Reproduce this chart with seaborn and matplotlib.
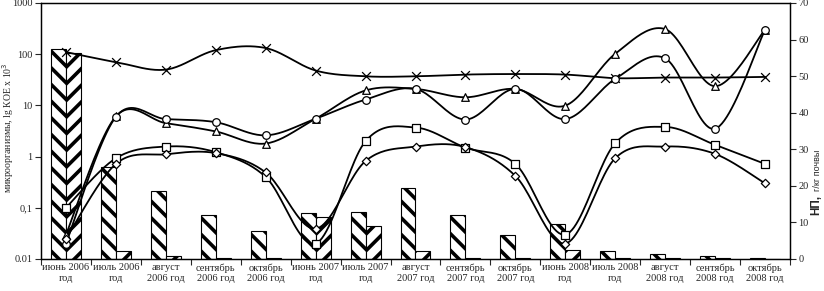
import numpy as np
import pandas as pd
import matplotlib
matplotlib.use("Agg")
import matplotlib.pyplot as plt
import seaborn as sns

# данные
months = ["июнь 2006\nгод", "июль 2006\nгод", "август\n2006 год", "сентябрь\n2006 год",
          "октябрь\n2006 год", "июнь 2007\nгод", "июль 2007\nгод", "август\n2007 год",
          "сентябрь\n2007 год", "октябрь\n2007 год", "июнь 2008\nгод", "июль 2008\nгод",
          "август\n2008 год", "сентябрь\n2008 год", "октябрь\n2008 год"]

# НП, г/кг почвы (правая ось)
np_bar1 = [57.4, 25.2, 18.5, 12.0, 7.6, 12.5, 12.8, 19.3, 12.0, 6.6, 9.5, 2.1, 1.3, 0.7, 0.2]
np_bar2 = [56.4, 2.1, 0.7, 0.4, 0.2, 11.4, 9.0, 2.1, 0.4, 0.2, 2.4, 0.4, 0.2, 0.2, 0.1]

# микроорганизмы (левая ось, лог)
s_cross = [110, 70, 50, 120, 132, 48, 37, 37, 40, 41, 40, 34, 35, 35, 36]
s_tri = [0.03, 6.1, 4.5, 3.1, 1.8, 5.5, 19.6, 21, 14.4, 21, 9.9, 102, 309, 23.7, 300]
s_circ = [0.02, 6.0, 5.4, 4.7, 2.6, 5.5, 13, 21, 5.3, 21, 5.4, 33, 83, 3.5, 300]
s_sq = [0.1, 0.93, 1.57, 1.22, 0.40, 0.02, 2.0, 3.7, 1.5, 0.72, 0.03, 1.83, 3.8, 1.7, 0.72]
s_dia = [0.025, 0.72, 1.11, 1.17, 0.49, 0.039, 0.82, 1.57, 1.53, 0.42, 0.02, 0.93, 1.57, 1.13, 0.30]

sns.set_style("white")
plt.rcParams['font.family'] = ['Liberation Serif', 'DejaVu Serif']
plt.rcParams['hatch.linewidth'] = 2.6
plt.rcParams['hatch.color'] = 'black'


def smooth(vals, n=24):
    # сглаживание как в Excel (Безье по Катмулл-Рому в лог-пространстве)
    y = np.log10(np.asarray(vals, dtype=float))
    x = np.arange(len(y), dtype=float)
    xs, ys = [], []
    t = np.linspace(0, 1, n)
    for i in range(len(y) - 1):
        i0, i3 = max(i - 1, 0), min(i + 2, len(y) - 1)
        for arr, out in ((x, xs), (y, ys)):
            p0, p1, p2, p3 = arr[i0], arr[i], arr[i + 1], arr[i3]
            c1 = p1 + (p2 - p0) / 6
            c2 = p2 - (p3 - p1) / 6
            b = ((1 - t) ** 3) * p1 + 3 * ((1 - t) ** 2) * t * c1 + 3 * (1 - t) * t ** 2 * c2 + t ** 3 * p2
            out.append(b)
    return np.concatenate(xs), 10 ** np.concatenate(ys)


fig = plt.figure(figsize=(8.24, 2.91), dpi=100)
ax = fig.add_axes([41 / 824, 32 / 291, 749 / 824, 256 / 291])
ax2 = ax.twinx()

bars = pd.DataFrame({
    "month": months * 2,
    "value": np_bar1 + np_bar2,
    "series": ["1"] * len(months) + ["2"] * len(months),
})
sns.barplot(data=bars, x="month", y="value", hue="series", ax=ax2, width=0.6,
            palette=["white", "white"], edgecolor="black", linewidth=0.8,
            legend=False, saturation=1)
for cont, h in zip(ax2.containers, ["\\\\", "//"]):
    for p in cont:
        p.set_hatch(h)

ax.set_zorder(ax2.get_zorder() + 1)
ax.patch.set_visible(False)

series = [(s_cross, "x"), (s_tri, "^"), (s_circ, "o"), (s_sq, "s"), (s_dia, "D")]
for vals, m in series:
    xs, ys = smooth(vals)
    sns.lineplot(x=xs, y=ys, ax=ax, color="black", linewidth=1.3, sort=False, estimator=None)
for vals, m in series:
    idx = np.arange(len(vals))
    if m == "x":
        sns.scatterplot(x=idx, y=vals, ax=ax, marker="x", color="black", s=40, linewidth=0.9, zorder=5)
    else:
        sns.scatterplot(x=idx, y=vals, ax=ax, marker=m, facecolor="white", edgecolor="black",
                        s=30 if m != "D" else 18, linewidth=0.9, zorder=5)

ax.set_yscale("log")
ax.set_ylim(0.01, 1000)
ax.set_yticks([0.01, 0.1, 1, 10, 100, 1000])
ax.set_yticklabels(["0.01", "0,1", "1", "10", "100", "1000"])
ax.yaxis.set_minor_locator(matplotlib.ticker.NullLocator())
ax2.set_ylim(0, 70)
ax2.set_yticks(range(0, 71, 10))
ax.set_xlim(-0.5, 14.5)
ax.set_xticks(np.arange(-0.5, 15, 1))
ax.set_xticklabels([])
ax.set_xticks(np.arange(15), minor=True)
ax.set_xticklabels(months, minor=True, fontsize=7.5, linespacing=1.25)
ax.tick_params(axis="x", which="major", direction="out", length=4, width=0.8, bottom=True)
ax.tick_params(axis="x", which="minor", length=0, pad=3)
ax.tick_params(axis="y", direction="out", length=4, width=0.8, labelsize=7.5, left=True, pad=2)
ax2.tick_params(axis="y", direction="out", length=4, width=0.8, labelsize=7.5, right=True, pad=2)
ax.set_xlabel("")
ax.set_ylabel("")
ax2.set_ylabel("")
ax2.set_xlabel("")
for a in (ax, ax2):
    for s in a.spines.values():
        s.set_color("black")
        s.set_linewidth(0.9)

fig.text(8 / 824, 163 / 291, "микроорганизмы, lg КОЕ x 10$^3$", rotation=90,
         ha="center", va="center", fontsize=7)
fig.text(816 / 824, 76 / 291, "НП,", rotation=90, ha="center", va="bottom",
         fontsize=8.5, fontweight="bold", family=["Liberation Sans", "DejaVu Sans"])
fig.text(818 / 824, 100 / 291, "г/кг почвы", rotation=90, ha="center", va="bottom",
         fontsize=6.5, family=["Liberation Sans", "DejaVu Sans"])

fig.savefig("out.png", dpi=100)
